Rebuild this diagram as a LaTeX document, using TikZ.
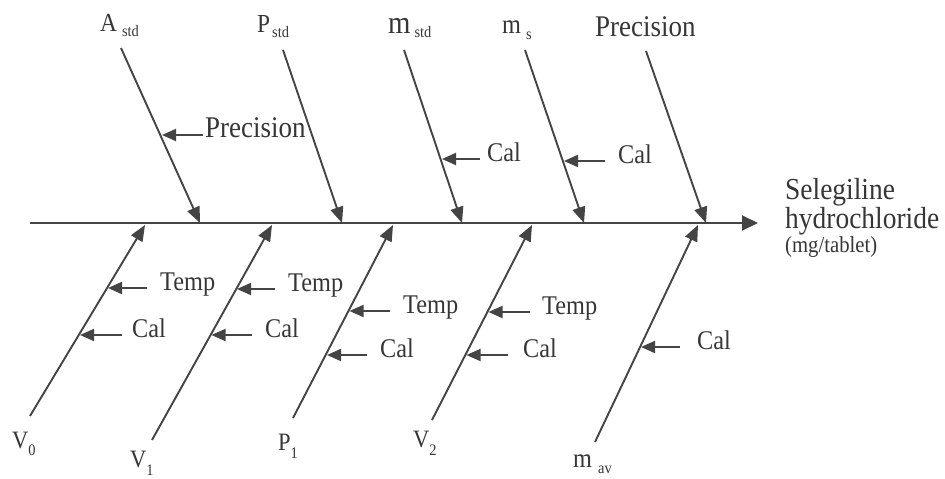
\documentclass[tikz,border=0pt]{standalone}
\usepackage{fontspec}
\setmainfont[FakeStretch=0.9]{Liberation Serif}
\usetikzlibrary{arrows.meta}
\definecolor{ink}{HTML}{444444}
\definecolor{txt}{HTML}{363636}
\newcommand\mysub[3][0pt]{\hspace{#1}\raisebox{#2}{\fontsize{16}{16}\selectfont #3}}
\begin{document}
\begin{tikzpicture}[x=1pt,y=-1pt,
  conn/.style={draw=ink, line width=1.9pt, -{Triangle[length=16pt,width=13pt]}},
  minor/.style={draw=ink, line width=1.9pt, -{Triangle[length=14pt,width=12pt]}},
  lab/.style={text=txt, inner sep=0pt, font=\fontsize{26}{28}\selectfont, anchor=base west},
  cause/.style={text=txt, inner sep=0pt, font=\fontsize{27}{29}\selectfont, anchor=mid west}]
\useasboundingbox (0,0) rectangle (945,479);

% spine
\coordinate (sp0) at (30,223);
\coordinate (sp1) at (758,223);
\draw[conn,-{Triangle[length=16pt,width=15pt]}] (sp0) -- (sp1);

% upper labels
\node[lab] (Astd) at (100,31) {A\mysub[5pt]{-5pt}{std}};
\node[lab] (Pstd) at (257,32) {P\mysub[2pt]{-5pt}{std}};
\node[lab,font=\fontsize{32}{34}\selectfont] (mstd) at (388,33) {m\mysub[4pt]{-5pt}{std}};
\node[lab,font=\fontsize{27}{29}\selectfont] (ms) at (502,33) {m\mysub[5pt]{-6pt}{s}};
\node[lab,font=\fontsize{30}{32}\selectfont] (prec) at (595,36) {Precision};

% upper branches
\coordinate (Astd-s) at (121,48);  \coordinate (Astd-e) at (200,223);
\coordinate (Pstd-s) at (283,50);  \coordinate (Pstd-e) at (342,223);
\coordinate (mstd-s) at (404,50);  \coordinate (mstd-e) at (462,223);
\coordinate (ms-s) at (525,50);    \coordinate (ms-e) at (584,223);
\coordinate (prec-s) at (646,51);  \coordinate (prec-e) at (706,223);
\draw[conn] (Astd-s) -- (Astd-e);
\draw[conn] (Pstd-s) -- (Pstd-e);
\draw[conn] (mstd-s) -- (mstd-e);
\draw[conn] (ms-s) -- (ms-e);
\draw[conn] (prec-s) -- (prec-e);

% lower labels
\node[lab,font=\fontsize{25}{27}\selectfont] (V0) at (12,448) {V\mysub{-7pt}{0}};
\node[lab,font=\fontsize{25}{27}\selectfont] (V1) at (130,467) {V\mysub{-8pt}{1}};
\node[lab,font=\fontsize{25}{27}\selectfont] (P1) at (278,450) {P\mysub{-8pt}{1}};
\node[lab,font=\fontsize{25}{27}\selectfont] (V2) at (413,447) {V\mysub{-8pt}{2}};
\node[lab,font=\fontsize{27}{29}\selectfont] (mav) at (573,467) {m\mysub[6pt]{-6pt}{av}};

% lower branches
\coordinate (V0-s) at (30,416);   \coordinate (V0-e) at (145,225);
\coordinate (V1-s) at (152,440);  \coordinate (V1-e) at (272,225);
\coordinate (P1-s) at (293,418);  \coordinate (P1-e) at (393,225);
\coordinate (V2-s) at (432,420);  \coordinate (V2-e) at (532,225);
\coordinate (mav-s) at (595,442); \coordinate (mav-e) at (698,225);
\draw[conn] (V0-s) -- (V0-e);
\draw[conn] (V1-s) -- (V1-e);
\draw[conn] (P1-s) -- (P1-e);
\draw[conn] (V2-s) -- (V2-e);
\draw[conn] (mav-s) -- (mav-e);

% output
\node[lab,font=\fontsize{30.5}{26}\selectfont] (out) at (785,199)
  {\begin{tabular}[t]{@{}l@{}}Selegiline\\[1pt]hydrochloride\\[-2pt]{\fontsize{23}{23}\selectfont (mg/tablet)}\end{tabular}};

% minor causes
\node[cause,font=\fontsize{30}{32}\selectfont] (c1) at (205,135) {Precision};
\coordinate (c1t) at (162,135);
\draw[minor] (c1.mid west) ++(-2,0) -- (c1t);

\node[cause] (c2) at (487,159) {Cal};
\coordinate (c2t) at (442,159);
\draw[minor] (c2.mid west) ++(-7,0) -- (c2t);

\node[cause] (c3) at (618,161) {Cal};
\coordinate (c3t) at (564,161);
\draw[minor] (c3.mid west) ++(-13,0) -- (c3t);

\node[cause] (c4) at (160,288) {Temp};
\coordinate (c4t) at (108,288);
\draw[minor] (c4.mid west) ++(-13,0) -- (c4t);

\node[cause] (c5) at (132,335) {Cal};
\coordinate (c5t) at (80,335);
\draw[minor] (c5.mid west) ++(-10,0) -- (c5t);

\node[cause] (c6) at (288,289) {Temp};
\coordinate (c6t) at (237,289);
\draw[minor] (c6.mid west) ++(-13,0) -- (c6t);

\node[cause] (c7) at (265,335) {Cal};
\coordinate (c7t) at (211.5,335);
\draw[minor] (c7.mid west) ++(-13,0) -- (c7t);

\node[cause] (c8) at (403,311) {Temp};
\coordinate (c8t) at (349.5,311);
\draw[minor] (c8.mid west) ++(-13,0) -- (c8t);

\node[cause] (c9) at (380,355) {Cal};
\coordinate (c9t) at (327,355);
\draw[minor] (c9.mid west) ++(-13,0) -- (c9t);

\node[cause] (c10) at (542,312) {Temp};
\coordinate (c10t) at (488.5,312);
\draw[minor] (c10.mid west) ++(-12,0) -- (c10t);

\node[cause] (c11) at (523,355) {Cal};
\coordinate (c11t) at (466.5,355);
\draw[minor] (c11.mid west) ++(-15,0) -- (c11t);

\node[cause] (c12) at (697,347) {Cal};
\coordinate (c12t) at (641,347);
\draw[minor] (c12.mid west) ++(-17,0) -- (c12t);
\end{tikzpicture}
\end{document}
